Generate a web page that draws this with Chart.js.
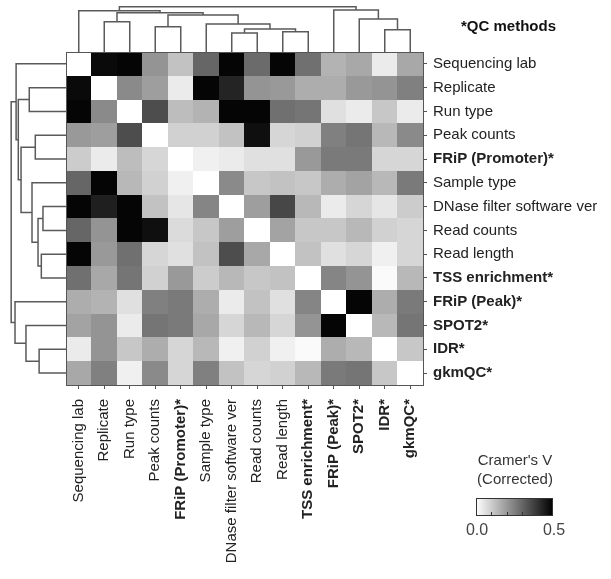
<!DOCTYPE html>
<html>
<head>
<meta charset="utf-8">
<script src="https://cdn.jsdelivr.net/npm/chart.js@4.4.0/dist/chart.umd.min.js"></script>
<style>
  html, body { margin: 0; padding: 0; background: #fff; }
  #wrap { width: 611px; height: 579px; }
</style>
</head>
<body>
<div id="wrap"><canvas id="cramerChart" width="611" height="579"></canvas></div>
<script>
// rows and columns share the same clustered order
const features = [
  'Sequencing lab', 'Replicate', 'Run type', 'Peak counts', 'FRiP (Promoter)*',
  'Sample type', 'DNase filter software ver', 'Read counts', 'Read length',
  'TSS enrichment*', 'FRiP (Peak)*', 'SPOT2*', 'IDR*', 'gkmQC*'
];

// Cramer's V (corrected)
const cramerV = [
  [0.00, 0.48, 0.49, 0.21, 0.12, 0.30, 0.49, 0.29, 0.49, 0.28, 0.15, 0.17, 0.04, 0.17],
  [0.48, 0.00, 0.23, 0.19, 0.04, 0.49, 0.43, 0.21, 0.20, 0.16, 0.16, 0.20, 0.21, 0.25],
  [0.49, 0.23, 0.00, 0.35, 0.13, 0.15, 0.49, 0.49, 0.28, 0.27, 0.06, 0.04, 0.11, 0.04],
  [0.20, 0.19, 0.35, 0.00, 0.09, 0.09, 0.12, 0.47, 0.08, 0.09, 0.25, 0.27, 0.14, 0.23],
  [0.10, 0.04, 0.13, 0.08, 0.00, 0.03, 0.04, 0.06, 0.06, 0.20, 0.26, 0.26, 0.08, 0.08],
  [0.30, 0.49, 0.14, 0.09, 0.03, 0.00, 0.23, 0.11, 0.12, 0.11, 0.16, 0.18, 0.14, 0.26],
  [0.49, 0.44, 0.49, 0.12, 0.05, 0.24, 0.00, 0.19, 0.36, 0.14, 0.04, 0.08, 0.05, 0.10],
  [0.30, 0.21, 0.49, 0.47, 0.07, 0.11, 0.19, 0.00, 0.18, 0.11, 0.11, 0.14, 0.09, 0.08],
  [0.49, 0.20, 0.28, 0.08, 0.06, 0.12, 0.35, 0.17, 0.00, 0.12, 0.06, 0.08, 0.03, 0.08],
  [0.28, 0.17, 0.27, 0.09, 0.20, 0.10, 0.14, 0.11, 0.12, 0.00, 0.24, 0.21, 0.01, 0.14],
  [0.16, 0.15, 0.06, 0.25, 0.26, 0.16, 0.04, 0.12, 0.06, 0.24, 0.00, 0.49, 0.16, 0.26],
  [0.18, 0.21, 0.04, 0.27, 0.26, 0.17, 0.08, 0.14, 0.08, 0.21, 0.49, 0.00, 0.14, 0.27],
  [0.04, 0.21, 0.11, 0.16, 0.08, 0.14, 0.03, 0.09, 0.03, 0.01, 0.16, 0.14, 0.00, 0.11],
  [0.17, 0.25, 0.03, 0.23, 0.08, 0.25, 0.12, 0.08, 0.09, 0.14, 0.26, 0.27, 0.11, 0.00]
];

// hierarchical clustering merges: [left node, right node, height]; new nodes numbered from 14
const linkage = [
  [6, 7, 0.42],
  [8, 9, 0.45],
  [12, 13, 0.49],
  [14, 15, 0.51],
  [3, 4, 0.56],
  [5, 17, 0.62],
  [1, 2, 0.67],
  [11, 16, 0.73],
  [18, 19, 0.82],
  [20, 22, 0.87],
  [0, 23, 0.91],
  [10, 21, 0.93],
  [24, 25, 1.00]
];

const colorbarMin = 0.0;
const colorbarMax = 0.5;
const colorbarTicks = [0.0, 0.5];
const colorbarMinorTicks = [0.1, 0.2, 0.3, 0.4];

const FONT = "'Liberation Sans', Arial, sans-serif";
const TOP_SPAN = 1.90;   // dendrogram height -> rows above grid
const LEFT_SPAN = 2.15;  // dendrogram height -> columns left of grid

const grayFor = (v) => {
  const t = Math.min(Math.max((v - colorbarMin) / (colorbarMax - colorbarMin), 0), 1);
  const g = Math.round(255 * (1 - t));
  return `rgb(${g},${g},${g})`;
};

// turn the linkage into U-shaped links with leaf positions
const buildLinks = () => {
  const pos = features.map((_, i) => i);
  const hgt = features.map(() => 0);
  return linkage.map(([a, b, h]) => {
    const link = { a: pos[a], ha: hgt[a], b: pos[b], hb: hgt[b], h };
    pos.push((pos[a] + pos[b]) / 2);
    hgt.push(h);
    return link;
  });
};

const links = buildLinks();
const topY = (h) => -0.5 - h * TOP_SPAN;
const leftX = (h) => -0.5 - h * LEFT_SPAN;

const lineStyle = {
  showLine: true,
  pointRadius: 0,
  borderColor: '#5a5a5a',
  borderWidth: 1.5,
  fill: false,
  tension: 0
};

const datasets = [];
links.forEach((l) => {
  datasets.push({
    ...lineStyle,
    data: [
      { x: l.a, y: topY(l.ha) }, { x: l.a, y: topY(l.h) },
      { x: l.b, y: topY(l.h) }, { x: l.b, y: topY(l.hb) }
    ]
  });
  datasets.push({
    ...lineStyle,
    data: [
      { x: leftX(l.ha), y: l.a }, { x: leftX(l.h), y: l.a },
      { x: leftX(l.h), y: l.b }, { x: leftX(l.hb), y: l.b }
    ]
  });
});

const heatmapPlugin = {
  id: 'heatmap',
  beforeDatasetsDraw(chart) {
    const { ctx, scales: { x, y } } = chart;
    ctx.save();
    cramerV.forEach((row, i) => {
      row.forEach((v, j) => {
        const x0 = Math.round(x.getPixelForValue(j - 0.5));
        const x1 = Math.round(x.getPixelForValue(j + 0.5));
        const y0 = Math.round(y.getPixelForValue(i - 0.5));
        const y1 = Math.round(y.getPixelForValue(i + 0.5));
        ctx.fillStyle = grayFor(v);
        ctx.fillRect(x0, y0, x1 - x0, y1 - y0);
      });
    });
    const n = features.length;
    const bx0 = x.getPixelForValue(-0.5), bx1 = x.getPixelForValue(n - 0.5);
    const by0 = y.getPixelForValue(-0.5), by1 = y.getPixelForValue(n - 0.5);
    ctx.strokeStyle = '#555';
    ctx.lineWidth = 1;
    ctx.strokeRect(Math.round(bx0) + 0.5, Math.round(by0) + 0.5, Math.round(bx1 - bx0), Math.round(by1 - by0));
    ctx.restore();
  }
};

const legendPlugin = {
  id: 'cramerLegend',
  afterDraw(chart) {
    const { ctx } = chart;
    ctx.save();
    ctx.fillStyle = '#111';
    ctx.textBaseline = 'middle';
    ctx.textAlign = 'left';
    ctx.font = `bold 15px ${FONT}`;
    ctx.fillText('*QC methods', 461, 27);

    ctx.fillStyle = '#333';
    ctx.textAlign = 'center';
    ctx.font = `15px ${FONT}`;
    ctx.fillText("Cramer's V", 515, 461);
    ctx.fillText('(Corrected)', 515, 480);

    const bx = 476, bw = 77, by = 498, bh = 18;
    const grad = ctx.createLinearGradient(bx, 0, bx + bw, 0);
    grad.addColorStop(0, grayFor(colorbarMin));
    grad.addColorStop(1, grayFor(colorbarMax));
    ctx.fillStyle = grad;
    ctx.fillRect(bx, by, bw, bh);
    ctx.strokeStyle = '#333';
    ctx.lineWidth = 1;
    ctx.strokeRect(bx + 0.5, by + 0.5, bw - 1, bh - 1);

    const toX = (v) => bx + (v - colorbarMin) / (colorbarMax - colorbarMin) * bw;
    ctx.beginPath();
    colorbarMinorTicks.forEach((v) => {
      const px = Math.round(toX(v)) + 0.5;
      ctx.moveTo(px, by + bh - 1);
      ctx.lineTo(px, by + bh - 4);
    });
    ctx.stroke();

    ctx.fillStyle = '#444';
    ctx.font = `16px ${FONT}`;
    colorbarTicks.forEach((v) => {
      ctx.fillText(v.toFixed(1), toX(v) + 1, 531);
    });
    ctx.restore();
  }
};

const tickFont = (c) => ({
  family: FONT,
  size: 15,
  weight: features[c.index] && features[c.index].endsWith('*') ? 'bold' : 'normal'
});
const allTicks = (scale) => { scale.ticks = features.map((_, i) => ({ value: i })); };

new Chart(document.getElementById('cramerChart'), {
  type: 'scatter',
  data: { datasets },
  options: {
    responsive: false,
    animation: false,
    events: [],
    layout: { padding: { left: 5, top: 5, right: 0, bottom: 0 } },
    plugins: { legend: { display: false }, tooltip: { enabled: false } },
    scales: {
      x: {
        type: 'linear',
        min: -2.892,
        max: 13.5,
        afterBuildTicks: allTicks,
        afterFit: (scale) => { scale.height = 194; scale.paddingLeft = 0; scale.paddingRight = 0; },
        border: { display: false },
        grid: { drawOnChartArea: false, tickLength: 4, color: '#555' },
        ticks: {
          autoSkip: false,
          maxRotation: 90,
          minRotation: 90,
          padding: 10,
          color: '#222',
          font: tickFont,
          callback: (value) => features[Math.round(value)]
        }
      },
      y: {
        type: 'linear',
        position: 'right',
        reverse: true,
        min: -2.475,
        max: 13.5,
        afterBuildTicks: allTicks,
        afterFit: (scale) => { scale.width = 188; scale.paddingTop = 0; scale.paddingBottom = 0; },
        border: { display: false },
        grid: { drawOnChartArea: false, tickLength: 4, color: '#555' },
        ticks: {
          padding: 6,
          color: '#222',
          font: tickFont,
          callback: (value) => features[Math.round(value)]
        }
      }
    }
  },
  plugins: [heatmapPlugin, legendPlugin]
});
</script>
</body>
</html>
